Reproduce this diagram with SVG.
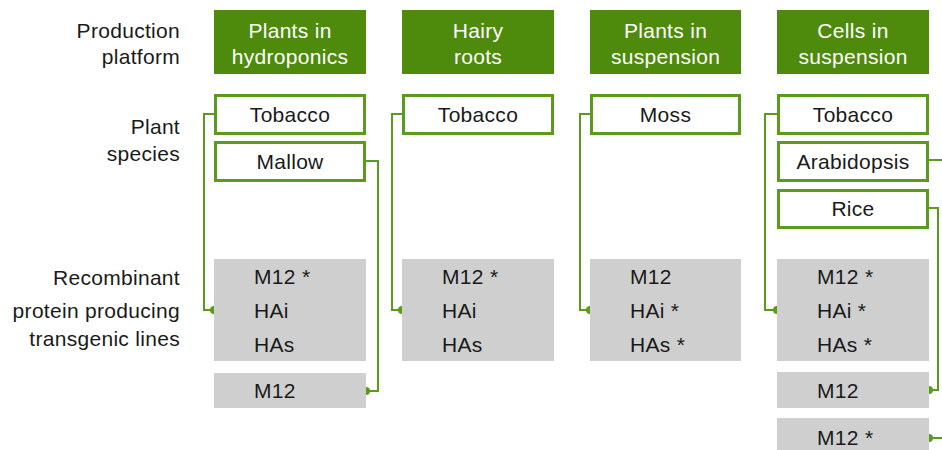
<svg xmlns="http://www.w3.org/2000/svg" width="942" height="450" viewBox="0 0 942 450">
<style>
text{font-family:"Liberation Sans",Arial,sans-serif;font-size:21px;letter-spacing:0.3px;fill:#1a1a1a}
.lab{text-anchor:end}
.hdr{fill:#4e8a0c}
.hdrt{fill:#fff;text-anchor:middle}
.sp{fill:#fff;stroke:#5a9a1c;stroke-width:3}
.spt{text-anchor:middle}
.gr{fill:#cfcfcf}
.con{fill:none;stroke:#5a9a1c;stroke-width:2}
.dot{fill:#5a9a1c}
</style>
<g id="labels">
<text class="lab" x="180" y="38">Production</text>
<text class="lab" x="180" y="64">platform</text>
<text class="lab" x="180" y="134">Plant</text>
<text class="lab" x="180" y="161">species</text>
<text class="lab" x="180" y="285">Recombinant</text>
<text class="lab" x="180" y="318">protein producing</text>
<text class="lab" x="180" y="346">transgenic lines</text>
</g>
<g id="connectors">
<polyline class="con" points="214,114 204,114 204,310 214,310"/>
<circle class="dot" cx="214" cy="310" r="4"/>
<polyline class="con" points="366,161 378,161 378,391 366,391"/>
<circle class="dot" cx="366" cy="391" r="4"/>
<polyline class="con" points="402,114 392,114 392,310 402,310"/>
<circle class="dot" cx="402" cy="310" r="4"/>
<polyline class="con" points="590,114 580,114 580,310 590,310"/>
<circle class="dot" cx="590" cy="310" r="4"/>
<polyline class="con" points="777,114 765,114 765,310 777,310"/>
<circle class="dot" cx="777" cy="310" r="4"/>
<polyline class="con" points="929,160 944,160"/>
<polyline class="con" points="929,208 938,208 938,390 929,390"/>
<circle class="dot" cx="929" cy="390" r="4"/>
<polyline class="con" points="929,438 944,438"/>
<circle class="dot" cx="929" cy="438" r="4"/>
</g>
<g id="h1"><rect class="hdr" x="214" y="10" width="152" height="64"/><text class="hdrt" x="290" y="38">Plants in</text><text class="hdrt" x="290" y="64">hydroponics</text></g>
<g id="h2"><rect class="hdr" x="402" y="10" width="152" height="64"/><text class="hdrt" x="478" y="38">Hairy</text><text class="hdrt" x="478" y="64">roots</text></g>
<g id="h3"><rect class="hdr" x="590" y="10" width="151" height="64"/><text class="hdrt" x="665.5" y="38">Plants in</text><text class="hdrt" x="665.5" y="64">suspension</text></g>
<g id="h4"><rect class="hdr" x="777" y="10" width="152" height="64"/><text class="hdrt" x="853" y="38">Cells in</text><text class="hdrt" x="853" y="64">suspension</text></g>
<g id="s1a"><rect class="sp" x="215.5" y="95.5" width="149" height="38"/><text class="spt" x="290" y="122">Tobacco</text></g>
<g id="s1b"><rect class="sp" x="215.5" y="142.5" width="149" height="38"/><text class="spt" x="290" y="169">Mallow</text></g>
<g id="s2a"><rect class="sp" x="403.5" y="95.5" width="149" height="38"/><text class="spt" x="478" y="122">Tobacco</text></g>
<g id="s3a"><rect class="sp" x="591.5" y="95.5" width="148" height="38"/><text class="spt" x="665.5" y="122">Moss</text></g>
<g id="s4a"><rect class="sp" x="778.5" y="95.5" width="149" height="38"/><text class="spt" x="853" y="122">Tobacco</text></g>
<g id="s4b"><rect class="sp" x="778.5" y="142.5" width="149" height="38"/><text class="spt" x="853" y="169">Arabidopsis</text></g>
<g id="s4c"><rect class="sp" x="778.5" y="190.5" width="149" height="37"/><text class="spt" x="853" y="216">Rice</text></g>
<g id="g1a"><rect class="gr" x="214" y="259" width="152" height="102"/><text x="254" y="284">M12 *</text><text x="254" y="318">HAi</text><text x="254" y="352">HAs</text></g>
<g id="g1b"><rect class="gr" x="214" y="373" width="152" height="35"/><text x="254" y="398">M12</text></g>
<g id="g2a"><rect class="gr" x="402" y="259" width="152" height="102"/><text x="442" y="284">M12 *</text><text x="442" y="318">HAi</text><text x="442" y="352">HAs</text></g>
<g id="g3a"><rect class="gr" x="590" y="259" width="151" height="102"/><text x="630" y="284">M12</text><text x="630" y="318">HAi *</text><text x="630" y="352">HAs *</text></g>
<g id="g4a"><rect class="gr" x="777" y="259" width="152" height="102"/><text x="817" y="284">M12 *</text><text x="817" y="318">HAi *</text><text x="817" y="352">HAs *</text></g>
<g id="g4b"><rect class="gr" x="777" y="372" width="152" height="36"/><text x="817" y="398">M12</text></g>
<g id="g4c"><rect class="gr" x="777" y="418" width="152" height="40"/><text x="817" y="445">M12 *</text></g>
</svg>
